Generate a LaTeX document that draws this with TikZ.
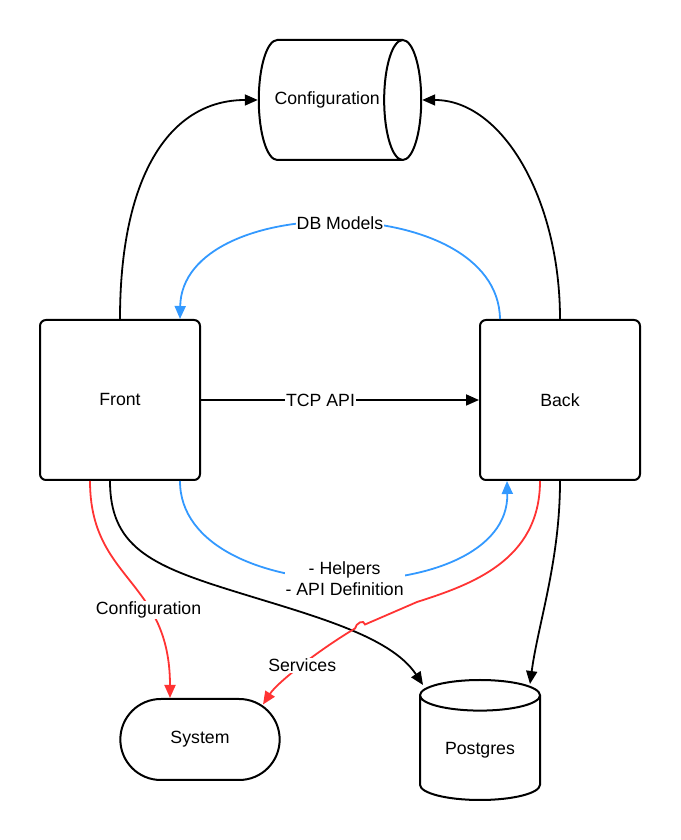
\documentclass[tikz,border=0pt]{standalone}
\usepackage{fontspec}
\setmainfont{Liberation Sans}
\usetikzlibrary{positioning, arrows.meta, shapes.geometric, shapes.misc}
\definecolor{chart-red}{RGB}{255,51,51}
\definecolor{chart-blue}{RGB}{51,153,255}

\begin{document}
\begin{tikzpicture}[x=1pt, y=1pt, font=\fontsize{17.7}{21}\selectfont,
	box/.style={draw, line width=2pt, rounded corners=6pt, minimum width=160pt, minimum height=160pt},
	store/.style={cylinder, draw, line width=2pt, anchor=shape center},
	link/.style={line width=1.8pt, -{Triangle[length=13pt,width=11pt]}},
	lbl/.style={fill=white, text=black, inner sep=1pt}]
	\useasboundingbox (0,0) rectangle (680,840);
	\node[box] (front) at (120,440) {Front};
	\node[box, right=278pt of front] (back) {Back};
	\node[store, aspect=1.6, minimum width=120pt, minimum height=160pt] (config) at (340,740) {Configuration};
	\node[store, shape border rotate=90, aspect=0.4, minimum width=120pt, minimum height=120pt] (postgres) at (480,100) {Postgres};
	\node[rounded rectangle, draw, line width=2pt, minimum width=166pt, minimum height=81pt] (system) at (200,100.5) {System};
	\coordinate (pgleft) at ([xshift=-57pt,yshift=-6pt]postgres.top);
	\coordinate (pgright) at ([xshift=50pt,yshift=-5pt]postgres.top);
	\coordinate (sysin) at ([shift={(63pt,35pt)}]system.center);
	\draw[link] (front.north) .. controls +(0,140) and +(-90,0) .. (config.west);
	\draw[link] (back.north) .. controls +(0,120) and +(80,0) .. (config.east);
	\draw[link, chart-blue] ([xshift=-60pt]back.north) .. controls +(-2,128) and +(2,128) .. node[lbl] {DB Models} ([xshift=60pt]front.north);
	\draw[link] (front.east) -- node[lbl, pos=0.43] {TCP API} (back.west);
	\draw[link, chart-blue] ([xshift=60pt]front.south) .. controls +(0,-130) and +(3,-130) .. node[lbl, align=center] {- Helpers\\- API Definition} ([xshift=-53pt]back.south);
	\draw[link, chart-red] ([xshift=-30pt]front.south) .. controls +(0,-100) and +(0,119) .. node[lbl, pos=0.66] {Configuration} ([xshift=-30pt]system.north);
	\draw[link] ([xshift=-10pt]front.south) .. controls +(0,-65) and +(-80,25) .. (230,250) .. controls +(80,-25) and +(-33,50) .. (pgleft);
	\draw[link] (back.south) .. controls +(0,-80) and +(8,60) .. (pgright);
	\draw[link, chart-red] ([xshift=-20pt]back.south) .. controls +(0,-80) and +(53,17) .. (417,238) -- (365,215.5)
		.. controls +(-1,5.5) and +(1,5.5) .. (355,211.5)
		.. controls +(-33,-19.5) and +(15,23) .. node[lbl] {Services} (sysin);
\end{tikzpicture}
\end{document}
